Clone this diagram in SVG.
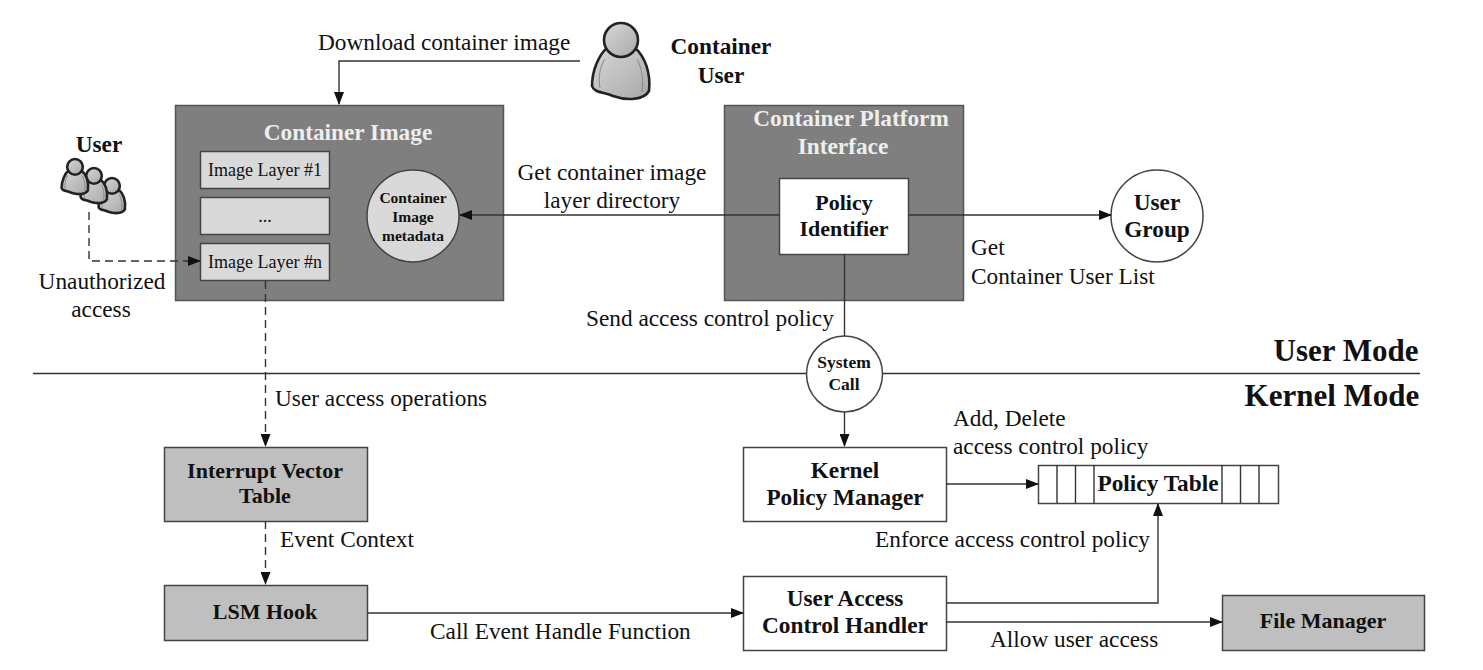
<svg xmlns="http://www.w3.org/2000/svg" width="1483" height="670" viewBox="0 0 1483 670">
<style>
text{font-family:"Liberation Serif","Times New Roman",serif;font-size:23.300px;fill:#111;text-anchor:middle}
.l{text-anchor:start}
.b{font-weight:bold;font-size:23.300px}
.w{fill:#eee}
.s{font-size:18px}
.xs{font-size:15.500px;font-weight:bold}
.sc{font-size:17.500px;font-weight:bold}
.n{font-size:22px}
.m{font-size:31px;font-weight:bold}
.dark{fill:#7f7f7f;stroke:#555;stroke-width:1.5}
.lite{fill:#d9d9d9;stroke:#444;stroke-width:1.5}
.mid{fill:#bfbfbf;stroke:#444;stroke-width:1.5}
.wht{fill:#fff;stroke:#444;stroke-width:1.5}
.c{fill:none;stroke:#333;stroke-width:1.4}
.a{marker-end:url(#arr)}
.d{stroke-dasharray:8 5}
.p{fill:url(#pg);stroke:#222;stroke-width:2.600;vector-effect:non-scaling-stroke}
.f{fill:none;stroke:#888;stroke-width:1;vector-effect:non-scaling-stroke}
</style>
<defs>
<marker id="arr" markerWidth="13" markerHeight="10" refX="12" refY="5" orient="auto" markerUnits="userSpaceOnUse"><path d="M0 0L13 5L0 10z" fill="#111"/></marker>
<linearGradient id="pg" x1="0" y1="0" x2="1" y2="1"><stop offset="0" stop-color="#d8d8d8"/><stop offset="1" stop-color="#a8a8a8"/></linearGradient>
<symbol id="person" viewBox="0 0 60 78" overflow="visible">
<path class="p" d="M17 24C7 32 1 49 1 63C3 70 13 69 22 73C36 78 53 77 58 68C60 50 54 33 43 24C36 30 24 30 17 24z"/>
<circle class="p" cx="30" cy="17" r="17"/>
<path class="f" d="M9 65C7 54 9 43 14 36M51 69C53 56 50 43 46 36"/>
</symbol>
</defs>
<g id="container-user"><use href="#person" x="591" y="23" width="60" height="78"/><text class="b" x="721" y="54">Container</text><text class="b" x="721" y="83">User</text></g>
<g id="user">
<text class="b" x="99" y="152">User</text>
<use href="#person" x="98" y="178" width="28" height="36"/>
<use href="#person" x="80" y="168" width="28" height="36"/>
<use href="#person" x="61" y="159" width="28" height="36"/>
</g>
<g id="container-image">
<rect class="dark" x="175.500" y="105.500" width="328" height="195"/>
<text class="b w" x="348" y="140">Container Image</text>
</g>
<g id="image-layer-1"><rect class="lite" x="200.500" y="151.500" width="129" height="37"/><text class="s" x="265" y="176">Image Layer #1</text></g>
<g id="image-layer-dots"><rect class="lite" x="200.500" y="197.500" width="129" height="37"/><text class="s" x="265" y="222">...</text></g>
<g id="image-layer-n"><rect class="lite" x="200.500" y="243.500" width="129" height="37"/><text class="s" x="265" y="268">Image Layer #n</text></g>
<g id="container-image-metadata"><circle class="lite" cx="413" cy="216" r="46"/><text class="xs" x="413" y="203">Container</text><text class="xs" x="413" y="222">Image</text><text class="xs" x="413" y="241">metadata</text></g>
<g id="container-platform-interface">
<rect class="dark" x="724.500" y="105.500" width="239" height="195"/>
<text class="b w" x="851" y="126">Container Platform</text><text class="b w" x="843" y="154">Interface</text>
</g>
<g id="policy-identifier"><rect class="wht" x="779.500" y="178.500" width="129" height="76"/><text class="b n" x="844" y="210">Policy</text><text class="b n" x="844" y="236">Identifier</text></g>
<g id="user-group"><circle class="wht" cx="1157" cy="216" r="46"/><text class="b" x="1157" y="210">User</text><text class="b" x="1157" y="237">Group</text></g>
<g id="system-call"><circle class="wht" cx="844.500" cy="374" r="38"/><text class="sc" x="844" y="368">System</text><text class="sc" x="844" y="390">Call</text></g>
<g id="interrupt-vector-table"><rect class="mid" x="164.500" y="447.500" width="203" height="74"/><text class="b n" x="265" y="478">Interrupt Vector</text><text class="b n" x="265" y="503">Table</text></g>
<g id="lsm-hook"><rect class="mid" x="164.500" y="585.500" width="203" height="55"/><text class="b n" x="265" y="619">LSM Hook</text></g>
<g id="kernel-policy-manager"><rect class="wht" x="743.500" y="447.500" width="203" height="74"/><text class="b" x="845" y="478">Kernel</text><text class="b" x="845" y="505">Policy Manager</text></g>
<g id="policy-table"><rect class="wht" x="1038.500" y="465.500" width="240" height="38"/><path class="c" d="M1057 465V503M1075.500 465V503M1094 465V503M1222 465V503M1240.500 465V503M1259 465V503"/><text class="b" x="1158" y="491">Policy Table</text></g>
<g id="user-access-control-handler"><rect class="wht" x="743.500" y="576.500" width="203" height="74"/><text class="b" x="845" y="606">User Access</text><text class="b" x="845" y="633">Control Handler</text></g>
<g id="file-manager"><rect class="mid" x="1222.500" y="595.500" width="202" height="55"/><text class="b n" x="1323" y="628">File Manager</text></g>
<g id="connectors">
<path class="c" d="M33 373.500H806M883 373.500H1420"/>
<path class="c a" d="M580 61H339V104"/>
<path class="c d a" d="M89 212V261H200"/>
<path class="c d a" d="M265.500 281V446"/>
<path class="c d a" d="M265.500 521V584"/>
<path class="c a" d="M779 215H460"/>
<path class="c a" d="M908 215H1111"/>
<path class="c" d="M844.500 254V336"/>
<path class="c a" d="M844.500 412V446"/>
<path class="c a" d="M946 484H1038"/>
<path class="c a" d="M367 613H743"/>
<path class="c a" d="M946 603H1158V504"/>
<path class="c a" d="M946 622H1222"/>
</g>
<g id="labels">
<text class="l" x="318" y="50">Download container image</text>
<text x="102" y="289">Unauthorized</text><text x="101" y="317">access</text>
<text x="612" y="180">Get container image</text><text x="612" y="208">layer directory</text>
<text class="l" x="971" y="255">Get</text><text class="l" x="971" y="284">Container User List</text>
<text class="l" x="586" y="326">Send access control policy</text>
<text class="l" x="275" y="406">User access operations</text>
<text class="l" x="280" y="547">Event Context</text>
<text class="l" x="953" y="426">Add, Delete</text><text class="l" x="953" y="454">access control policy</text>
<text class="l" x="875" y="547">Enforce access control policy</text>
<text class="l" x="430" y="639">Call Event Handle Function</text>
<text class="l" x="990" y="647">Allow user access</text>
<text class="m" x="1346" y="361">User Mode</text>
<text class="m" x="1332" y="406">Kernel Mode</text>
</g>
</svg>
